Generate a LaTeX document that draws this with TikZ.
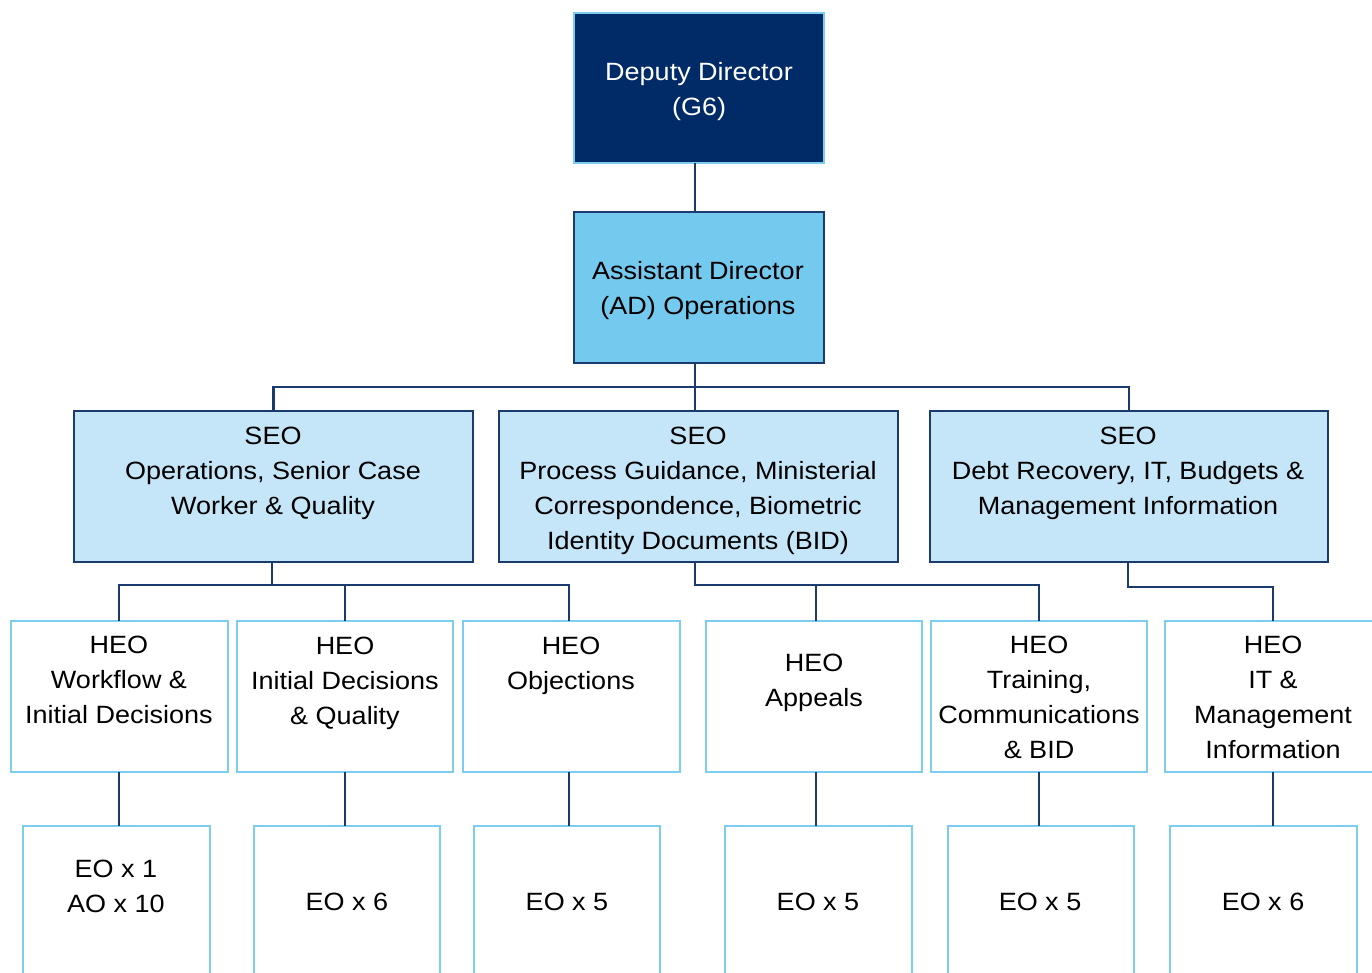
\documentclass[tikz,border=0pt]{standalone}
\usepackage{fontspec}
\setmainfont[FakeStretch=1.08]{Liberation Sans}
\definecolor{navy}{HTML}{002B66}
\definecolor{lineblue}{HTML}{1B3A6E}
\definecolor{skyborder}{HTML}{7DCDF1}
\definecolor{adfill}{HTML}{74C9EE}
\definecolor{seofill}{HTML}{C5E6F8}
\begin{document}
\begin{tikzpicture}[x=1pt,y=-1pt,
  box/.style={draw, line width=2.5pt, inner sep=0pt, outer sep=0pt, anchor=north west},
  ddbox/.style={box, draw=skyborder, fill=navy},
  adbox/.style={box, draw=lineblue, fill=adfill},
  seobox/.style={box, draw=lineblue, fill=seofill},
  heobox/.style={box, draw=skyborder, fill=white},
  txt/.style={align=center, inner sep=0pt, font=\fontsize{25}{35}\selectfont},
  conn/.style={draw=lineblue, line width=2.5pt}
]
\useasboundingbox (0,0) rectangle (1372,973);
\clip (0,0) rectangle (1372,973);
% boxes
\node[ddbox, minimum width=250pt, minimum height=150pt] (dd) at (574,13) {};
\node[adbox, minimum width=250pt, minimum height=151pt] (ad) at (574,212) {};
\node[seobox, minimum width=399pt, minimum height=151pt] (seoL) at (74,411) {};
\node[seobox, minimum width=399pt, minimum height=151pt] (seoM) at (499,411) {};
\node[seobox, minimum width=398pt, minimum height=151pt] (seoR) at (930,411) {};
\node[heobox, minimum width=217pt, minimum height=151pt] (h1) at (11,621) {};
\node[heobox, minimum width=216pt, minimum height=151pt] (h2) at (237,621) {};
\node[heobox, minimum width=217pt, minimum height=151pt] (h3) at (463,621) {};
\node[heobox, minimum width=216pt, minimum height=151pt] (h4) at (706,621) {};
\node[heobox, minimum width=216pt, minimum height=151pt] (h5) at (931,621) {};
\node[heobox, minimum width=216pt, minimum height=151pt] (h6) at (1165,621) {};
\node[heobox, minimum width=187pt, minimum height=180pt] (e1) at (23,826) {};
\node[heobox, minimum width=186pt, minimum height=180pt] (e2) at (254,826) {};
\node[heobox, minimum width=186pt, minimum height=180pt] (e3) at (474,826) {};
\node[heobox, minimum width=187pt, minimum height=180pt] (e4) at (725,826) {};
\node[heobox, minimum width=186pt, minimum height=180pt] (e5) at (948,826) {};
\node[heobox, minimum width=187pt, minimum height=180pt] (e6) at (1170,826) {};
% connectors
\coordinate (b1) at (695,387);
\coordinate (b2) at (272,585);
\coordinate (b3) at (695,585);
\coordinate (b4) at (1128,587);
\draw[conn] (dd.south -| 695,0) -- (ad.north -| 695,0);
\draw[conn] (ad.south -| 695,0) -- (b1);
\draw[conn] (seoL.north) |- (b1) -| (seoR.north);
\draw[conn] (b1) -- (seoM.north -| 695,0);
\draw[conn] (seoL.south -| b2) -- (b2);
\draw[conn] (h1.north -| 119,0) |- (b2) -| (h3.north -| 569,0);
\draw[conn] (b2 -| 345,0) -- (h2.north -| 345,0);
\draw[conn] (seoM.south -| b3) -- (b3) -| (h5.north -| 1039,0);
\draw[conn] (b3 -| 816,0) -- (h4.north -| 816,0);
\draw[conn] (seoR.south -| b4) -- (b4) -| (h6.north -| 1273,0);
\draw[conn] (h1.south -| 119,0) -- (e1.north -| 119,0);
\draw[conn] (h2.south -| 345,0) -- (e2.north -| 345,0);
\draw[conn] (h3.south -| 569,0) -- (e3.north -| 569,0);
\draw[conn] (h4.south -| 816,0) -- (e4.north -| 816,0);
\draw[conn] (h5.south -| 1039,0) -- (e5.north -| 1039,0);
\draw[conn] (h6.south -| 1273,0) -- (e6.north -| 1273,0);
% texts
\node[txt, text=white] (tdd) at (699,91.5) {Deputy Director\\(G6)};
\node[txt] (tad) at (698,290.5) {Assistant Director\\(AD) Operations};
\node[txt] (tseoL) at (273,473.5) {SEO\\Operations, Senior Case\\Worker \& Quality};
\node[txt] (tseoM) at (698,491) {SEO\\Process Guidance, Ministerial\\Correspondence, Biometric\\Identity Documents (BID)};
\node[txt] (tseoR) at (1128,473.5) {SEO\\Debt Recovery, IT, Budgets \&\\Management Information};
\node[txt] (th1) at (119,680) {HEO\\Workflow \&\\Initial Decisions};
\node[txt] (th2) at (345,683) {HEO\\Initial Decisions\\\& Quality};
\node[txt] (th3) at (571,665.5) {HEO\\Objections};
\node[txt] (th4) at (814,682.5) {HEO\\Appeals};
\node[txt] (th5) at (1039,697.5) {HEO\\Training,\\Communications\\\& BID};
\node[txt] (th6) at (1273,697.5) {HEO\\IT \&\\Management\\Information};
\node[txt] (te1) at (116,886) {EO x 1\\AO x 10};
\node[txt] (te2) at (347,902) {EO x 6};
\node[txt] (te3) at (567,902) {EO x 5};
\node[txt] (te4) at (818,902) {EO x 5};
\node[txt] (te5) at (1040,902) {EO x 5};
\node[txt] (te6) at (1263,902) {EO x 6};
\end{tikzpicture}
\end{document}
